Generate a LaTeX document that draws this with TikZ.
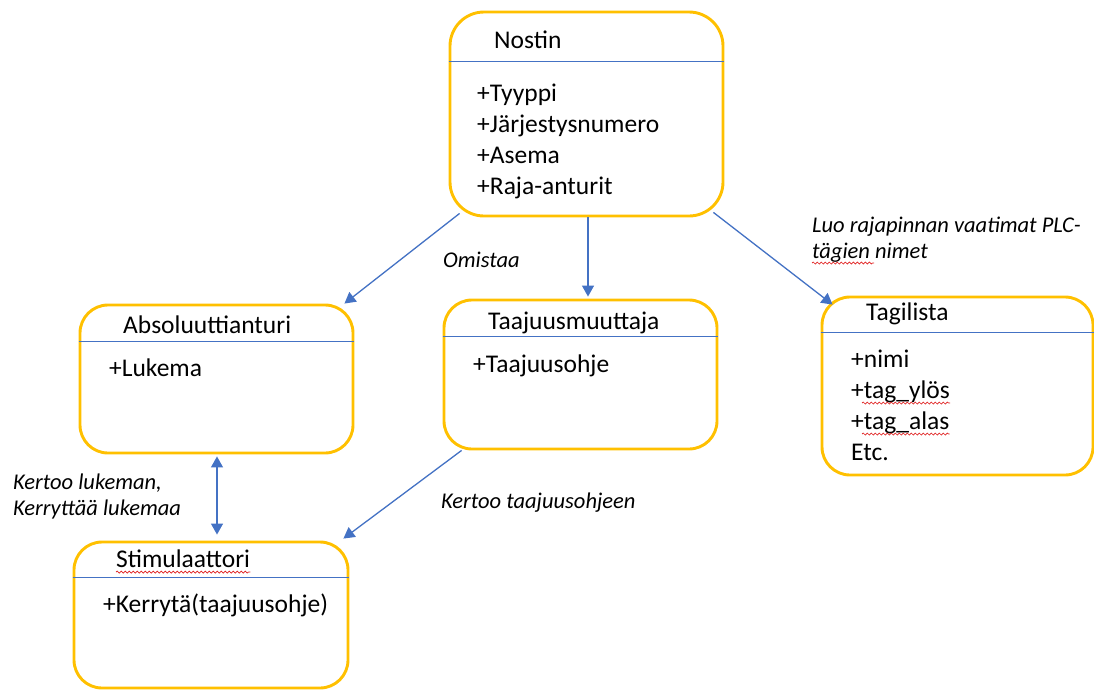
\documentclass[tikz,border=0pt]{standalone}
\usepackage{fontspec}
\setmainfont{Carlito}
\usetikzlibrary{arrows.meta,decorations.pathmorphing}
\definecolor{boxorange}{HTML}{FFC000}
\definecolor{lineblue}{HTML}{4472C4}
\definecolor{spellred}{HTML}{E02020}
\tikzset{
  >={Triangle[length=11pt,width=12pt]},
  classbox/.style={draw=boxorange,line width=2.9pt,rounded corners=28pt,fill=white,inner sep=0pt},
  divider/.style={draw=lineblue,line width=1.3pt},
  title/.style={anchor=base west,inner sep=0pt,font=\fontsize{25.5}{30}\selectfont},
  attr/.style={title},
  note/.style={anchor=base west,inner sep=0pt,font=\fontsize{22.5}{26}\selectfont\itshape},
  link/.style={draw=lineblue,fill=lineblue,line width=1.3pt,->},
  squiggle/.style={draw=spellred,line width=0.7pt,decorate,decoration={snake,amplitude=1pt,segment length=4pt}}
}
\begin{document}
\begin{tikzpicture}[x=1pt,y=-1pt]
\useasboundingbox (0,0) rectangle (1094,689);

% class boxes
\node[classbox,minimum width=273pt,minimum height=204pt,rounded corners=34pt] (nostin) at (586.5,114) {};
\node[classbox,minimum width=273pt,minimum height=148pt] (abs) at (216.5,379) {};
\node[classbox,minimum width=273pt,minimum height=149pt] (taaj) at (580.5,374.5) {};
\node[classbox,minimum width=271pt,minimum height=178pt] (tag) at (957.5,386) {};
\node[classbox,minimum width=274pt,minimum height=146pt] (stim) at (211,615) {};

\draw[divider] ([yshift=-51pt]nostin.north west) -- ([yshift=-51pt]nostin.north east);
\draw[divider] ([yshift=-38pt]abs.north west) -- ([yshift=-38pt]abs.north east);
\draw[divider] ([yshift=-38pt]taaj.north west) -- ([yshift=-38pt]taaj.north east);
\draw[divider] ([yshift=-37pt]tag.north west) -- ([yshift=-37pt]tag.north east);
\draw[divider] ([yshift=-37pt]stim.north west) -- ([yshift=-37pt]stim.north east);

% titles and attributes
\node[title] (nostintitle) at (494,48) {Nostin};
\foreach \a [count=\i] in {Tyyppi,Järjestysnumero,Asema,Raja-anturit}
  \node[attr] (nostinattr\i) at (477,70+31*\i) {+\a};

\node[title] (abstitle) at (123,333) {Absoluuttianturi};
\node[attr] (absattr) at (109,376) {+Lukema};

\node[title] (taajtitle) at (488,329) {Taajuusmuuttaja};
\node[attr] (taajattr) at (473,372) {+Taajuusohje};

\node[title] (tagtitle) at (866,320) {Tagilista};
\foreach \a [count=\i] in {+nimi,+tag\_ylös,+tag\_alas,Etc.}
  \node[attr] (tagattr\i) at (851,336+31*\i) {\a};

\node[title] (stimtitle) at (116,567) {Stimulaattori};
\node[attr] (stimattr) at (103,612) {+Kerrytä(taajuusohje)};

% labels
\node[note] (omistaa) at (443,267) {Omistaa};
\node[note] (luo1) at (812,232) {Luo rajapinnan vaatimat PLC-};
\node[note] (luo2) at (812,258) {tägien nimet};
\node[note] (kertoo1) at (13,489) {Kertoo lukeman,};
\node[note] (kertoo2) at (13,515) {Kerryttää lukemaa};
\node[note] (kertoo3) at (441,508) {Kertoo taajuusohjeen};

% spelling marks
\draw[squiggle] ([yshift=-5pt]stimtitle.base west) -- ([yshift=-5pt]stimtitle.base east);
\draw[squiggle] ([xshift=11pt,yshift=-5pt]tagattr2.base west) -- ([yshift=-5pt]tagattr2.base east);
\draw[squiggle] ([xshift=11pt,yshift=-5pt]tagattr3.base west) -- ([yshift=-5pt]tagattr3.base east);
\draw[squiggle] ([yshift=-5pt]luo2.base west) -- ++(62,0);

% connectors
\draw[link] ([xshift=11pt,yshift=4pt]nostin.south west) -- ([xshift=-10pt]abs.north east);
\draw[link,shorten >=2pt] ([xshift=1.5pt]nostin.south) -- ([xshift=1.5pt]nostin.south |- taaj.north);
\draw[link] ([xshift=-11pt,yshift=5pt]nostin.south east) -- ([xshift=12pt,yshift=-9pt]tag.north west);
\draw[link,<->,shorten <=2pt,shorten >=6pt] ([xshift=0.5pt]abs.south) -- ([xshift=0.5pt]abs.south |- stim.north);
\draw[link] ([xshift=19pt]taaj.south west) -- ([xshift=-6pt,yshift=2pt]stim.north east);
\end{tikzpicture}
\end{document}
